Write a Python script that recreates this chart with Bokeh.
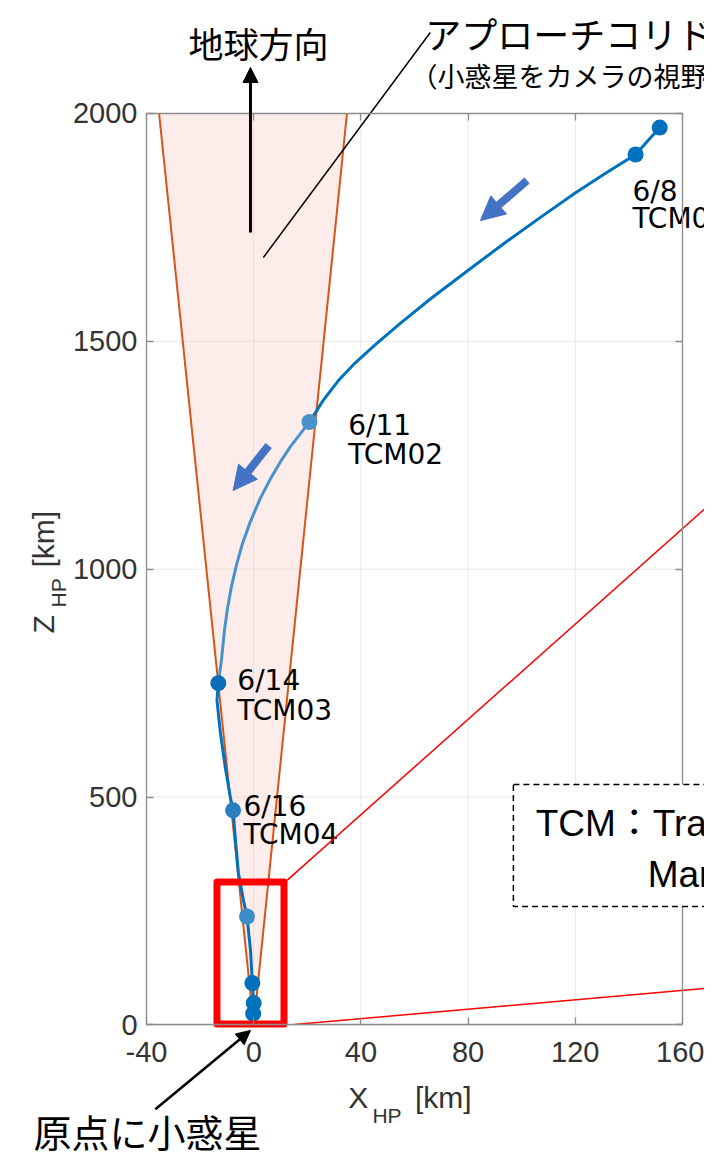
from bokeh.plotting import figure
from bokeh.models import Range1d, LinearAxis, FixedTicker, Arrow, NormalHead
from bokeh.core.properties import value
from bokeh.embed import file_html
from bokeh.resources import INLINE

# ---------------- data ----------------
x_ticks = [-40, 0, 40, 80, 120, 160]
z_ticks = [0, 500, 1000, 1500, 2000]
x_lim = (-40, 160)
z_lim = (0, 2000)

# approach corridor edges (km)
corridor_x = [-35.3, 0.0, 34.8]
corridor_z = [2000, 0, 2000]

# trajectory 6/8 -> 6/11
seg1_x = [151.5, 142.5, 131.3, 120.1, 107.0, 93.9, 79.8, 65.9, 54.8, 45.4, 37.9, 31.6, 26.0, 20.8]
seg1_z = [1969, 1910, 1869, 1826, 1772, 1717, 1655, 1593, 1540, 1493, 1453, 1414, 1371, 1323]
# trajectory 6/11 -> 6/14
seg2_x = [20.8, 17.5, 13.7, 10.0, 6.3, 2.5, -1.2, -4.2, -6.4, -8.3, -9.8, -10.9, -12.0, -13.2]
seg2_z = [1323, 1298, 1269, 1236, 1199, 1156, 1105, 1056, 1010, 962, 913, 867, 802, 750]
# trajectory 6/14 -> arrival
seg3_x = [-13.2, -13.7, -12.4, -10.6, -8.7, -7.7, -6.8, -5.7, -3.8, -2.5, -1.2, -0.5, 0.0, -0.2]
seg3_z = [750, 712, 640, 565, 499, 471, 405, 333, 273, 238, 164, 92, 48, 25]

# maneuver points
man_x = [151.5, 142.5, 20.8, -13.2, -7.7, -2.5, -0.5, 0.0, -0.2]
man_z = [1969, 1910, 1323, 750, 471, 238, 92, 48, 25]

man_dates = ["6/8", "6/11", "6/14", "6/16"]
man_names = ["TCM01", "TCM02", "TCM03", "TCM04"]

# ---------------- figure ----------------
p = figure(width=704, height=1152,
           x_range=Range1d(-94.48, 168.21), y_range=Range1d(-279.8, 2247.9),
           x_axis_location=None, y_axis_location=None,
           min_border=0, toolbar_location=None, output_backend="svg",
           outline_line_color=None, background_fill_color="white",
           border_fill_color="white")
for g in p.grid:
    g.visible = False

GRID = "#e9e9e9"
p.segment(x0=x_ticks, y0=[z_lim[0]] * len(x_ticks), x1=x_ticks, y1=[z_lim[1]] * len(x_ticks),
          line_color=GRID, line_width=1, level="underlay")
p.segment(x0=[x_lim[0]] * len(z_ticks), y0=z_ticks, x1=[x_lim[1]] * len(z_ticks), y1=z_ticks,
          line_color=GRID, line_width=1, level="underlay")

# approach corridor
p.patch(x=corridor_x, y=corridor_z, fill_color="#f4b6aa", fill_alpha=0.25, line_color=None)
p.line(x=corridor_x, y=corridor_z, line_color="#D95319", line_width=2)

# trajectory
p.line(seg1_x, seg1_z, line_color="#0072BD", line_width=3, line_join="round")
p.line(seg2_x, seg2_z, line_color="#4a92cb", line_width=3, line_join="round")
p.line(seg3_x, seg3_z, line_color="#0072BD", line_width=3, line_join="round")
man_colors = ["#0072BD", "#0072BD", "#4a92cb", "#0a6db6", "#2a7dc0", "#3d8ccb", "#0072BD", "#0072BD", "#0072BD"]
p.scatter(man_x, man_z, size=16, fill_color=man_colors, line_color=None)

# maneuver labels
lab_x = [141.3, 35.3, -6.1, -3.8]
lab_z1 = [1829, 1315, 756, 480]
lab_z2 = [1769, 1251, 690, 419]
LABF = value("DejaVu Sans")
p.text(x=lab_x, y=lab_z1, text=man_dates, text_font=LABF, text_font_size="28px",
       text_baseline="middle", text_align="left", text_color="black")
p.text(x=lab_x, y=lab_z2, text=man_names, text_font=LABF, text_font_size="28px",
       text_baseline="middle", text_align="left", text_color="black")

# zoom box and leader lines
p.quad(left=-13.7, right=11.3, bottom=2, top=314, fill_color=None,
       line_color="#FF0000", line_width=7, line_join="round")
p.segment(x0=[12.0, 15.2], y0=[315, 1], x1=[171.5, 171.5], y1=[1149, 82],
          line_color="#FF0000", line_width=1.5)

# pointer line to corridor label
p.segment(x0=[3.6], y0=[1684], x1=[65.9], y1=[2177.6], line_color="black", line_width=1.5)

# arrows
p.add_layout(Arrow(x_start=-1.2, y_start=1738.7, x_end=-1.2, y_end=2100.8,
                   line_color="black", line_width=3,
                   end=NormalHead(size=15, fill_color="black", line_color="black", line_width=1)))
p.add_layout(Arrow(x_start=-36.7, y_start=-185, x_end=-1.2, y_end=-12,
                   line_color="black", line_width=2.5,
                   end=NormalHead(size=14, fill_color="black", line_color="black", line_width=1)))
BLUE = "#4472C4"
p.add_layout(Arrow(x_start=102.0, y_start=1852.8, x_end=84.6, y_end=1765,
                   line_color=BLUE, line_width=8,
                   end=NormalHead(size=24, fill_color=BLUE, line_color=BLUE, line_width=1)))
p.add_layout(Arrow(x_start=5.6, y_start=1271.6, x_end=-7.7, y_end=1172.6,
                   line_color=BLUE, line_width=8,
                   end=NormalHead(size=24, fill_color=BLUE, line_color=BLUE, line_width=1)))

JP = value("Noto Sans CJK JP")
p.text(x=[1.8], y=[2155.6], text=["地球方向"], text_font=JP, text_font_size="35px",
       text_align="center", text_baseline="middle", text_color="black")
p.text(x=[64.0], y=[2175.5], text=["アプローチコリドー"], text_font=JP, text_font_size="36px",
       text_align="left", text_baseline="middle", text_color="black")
p.text(x=[58.5], y=[2083.0], text=["（小惑星をカメラの視野内に捉え続ける領域）"], text_font=JP,
       text_font_size="27px", text_align="left", text_baseline="middle", text_color="black")
p.text(x=[-82.2], y=[-231.5], text=["原点に小惑星"], text_font=JP, text_font_size="38px",
       text_align="left", text_baseline="middle", text_color="black")

# dashed definition box
box = p.quad(left=96.9, right=200, bottom=260, top=527.7, fill_color="white",
             line_color="black", line_dash="6 4", line_width=1.5)
box.level = "annotation"
BOXF = value("Liberation Sans, Noto Sans CJK JP")
bt1 = p.text(x=[105.2], y=[442], text=["TCM：Trajectory Correction"],
             text_font=BOXF, text_font_size="37px",
             text_align="left", text_baseline="middle", text_color="black")
bt2 = p.text(x=[147.0], y=[330], text=["Maneuver"],
             text_font=BOXF, text_font_size="37px",
             text_align="left", text_baseline="middle", text_color="black")
bt1.level = "annotation"
bt2.level = "annotation"

# axes (MATLAB-like box)
AX = "#8c8c8c"
TXT = "#333333"
def style(ax):
    ax.axis_line_color = AX
    ax.axis_line_width = 1.3
    ax.major_tick_line_color = AX
    ax.major_tick_line_width = 1.3
    ax.major_tick_in = 7
    ax.major_tick_out = 0
    ax.minor_tick_line_color = None
    ax.major_label_text_font = "Liberation Sans"
    ax.major_label_text_font_size = "29px"
    ax.major_label_text_color = TXT

ax_left = LinearAxis(fixed_location=x_lim[0], bounds=z_lim, ticker=FixedTicker(ticks=z_ticks))
style(ax_left)
ax_left.major_label_standoff = 9
p.add_layout(ax_left, "left")

ax_bottom = LinearAxis(fixed_location=z_lim[0], bounds=x_lim, ticker=FixedTicker(ticks=x_ticks),
                       major_label_overrides={t: str(t) for t in x_ticks})
style(ax_bottom)
ax_bottom.major_label_standoff = 17
p.add_layout(ax_bottom, "below")

ax_top = LinearAxis(fixed_location=z_lim[1], bounds=x_lim, ticker=FixedTicker(ticks=x_ticks),
                    major_label_overrides={t: "" for t in x_ticks})
style(ax_top)
p.add_layout(ax_top, "above")

ax_right = LinearAxis(fixed_location=x_lim[1], bounds=z_lim, ticker=FixedTicker(ticks=z_ticks),
                      major_label_overrides={t: "" for t in z_ticks})
style(ax_right)
p.add_layout(ax_right, "right")

# axis titles with subscripts
SANS = value("Liberation Sans")
p.text(x=[35.3, 60.2], y=[-159, -159], text=["X", "[km]"], text_font=SANS, text_font_size="30px",
       text_align="left", text_baseline="alphabetic", text_color=TXT)
p.text(x=[44.3], y=[-198.6], text=["HP"], text_font=SANS, text_font_size="21px",
       text_align="left", text_baseline="alphabetic", text_color=TXT)
p.text(x=[-78.5, -78.5], y=[859, 1003.8], text=["Z", "[km]"], text_font=SANS, text_font_size="30px",
       text_align="left", text_baseline="alphabetic", text_color=TXT, angle=1.5708)
p.text(x=[-72.9], y=[916], text=["HP"], text_font=SANS, text_font_size="21px",
       text_align="left", text_baseline="alphabetic", text_color=TXT, angle=1.5708)

open("out.html", "w").write(file_html(p, INLINE))
